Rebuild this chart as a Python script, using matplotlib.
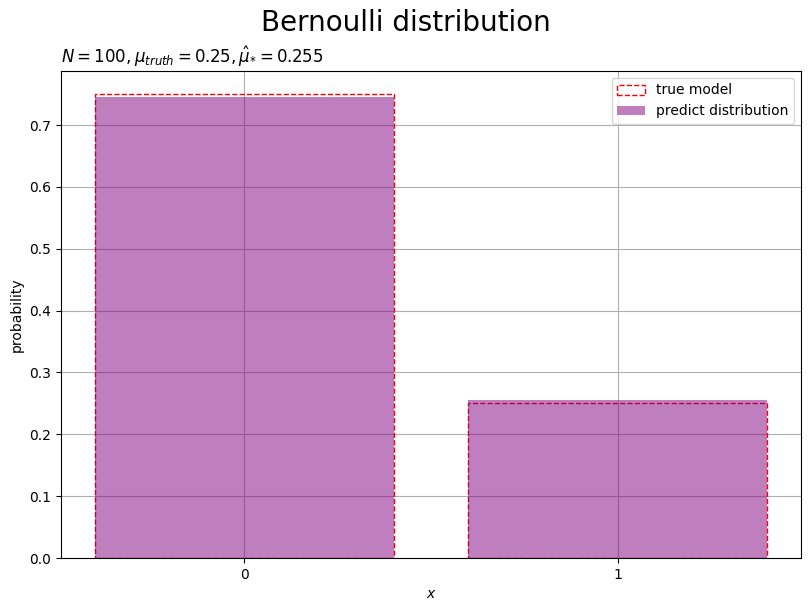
import matplotlib
matplotlib.use("Agg")
import matplotlib.pyplot as plt

categories = [0, 1]
true_probs = [0.75, 0.25]
pred_probs = [0.745, 0.255]
tick_labels = ["0", "1"]

W, H = 811, 611
fig = plt.figure(figsize=(W / 100, H / 100), dpi=100)
ax = fig.add_axes([61 / W, 1 - 558 / H, 740 / W, 487 / H])
ax.set_axisbelow(True)
ax.bar(categories, true_probs, width=0.8, fill=False, edgecolor="red",
       linestyle="--", label="true model")
ax.bar(categories, pred_probs, width=0.8, color="purple", alpha=0.5,
       label="predict distribution")
ax.set_xticks(categories)
ax.set_xticklabels(tick_labels)
ax.set_xlabel("$x$")
ax.set_ylabel("probability")
ax.grid(True)
ax.legend(loc="upper right")
ax.set_title(r"$N=100, \mu_{truth}=0.25, \hat{\mu}_{*}=0.255$", loc="left")
fig.suptitle("Bernoulli distribution", fontsize=20, y=0.985)
fig.savefig("out.png", dpi=100)
